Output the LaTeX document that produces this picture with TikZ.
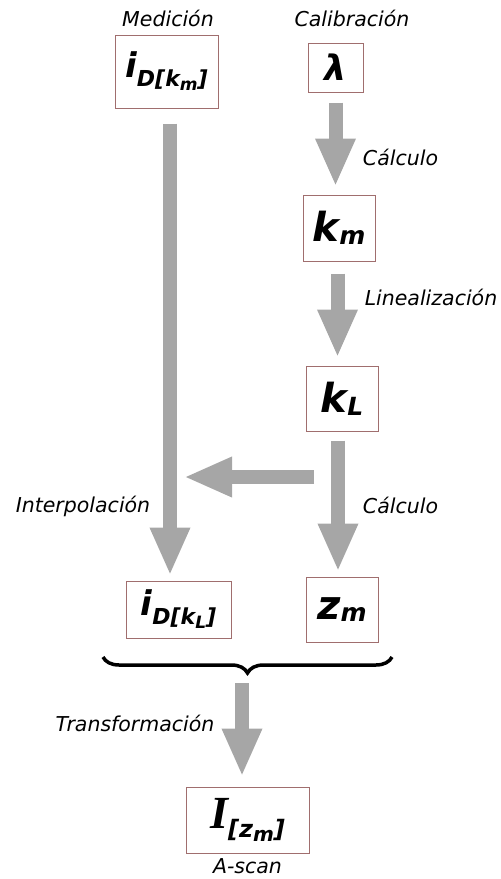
\documentclass[tikz,border=0pt]{standalone}
\usepackage{fontspec}
\setmainfont{DejaVu Sans}[ItalicFont={DejaVu Sans Oblique},BoldFont={DejaVu Sans Bold},BoldItalicFont={DejaVu Sans Bold Oblique}]
\newfontfamily\serifbi{Liberation Serif}
\usetikzlibrary{arrows.meta,decorations.pathreplacing}

\definecolor{boxred}{RGB}{160,110,110}
\definecolor{flowgray}{RGB}{166,166,166}

% symbol with subscript, sizes in px
\newcommand{\fs}[1]{\fontsize{#1}{#1}\selectfont}
\newcommand{\symb}[4]{{\fs{#1}#2}\raisebox{-0.28em}{\fs{#3}#4}}

\begin{document}
\begin{tikzpicture}[x=1pt, y=-1pt, every node/.style={font=\fs{20.5}\itshape},
    varbox/.style={draw=boxred, line width=1pt, inner sep=0pt, font=\bfseries\itshape},
    flow/.style={draw=flowgray, line width=14pt, -{Triangle[width=37pt,length=48pt]}}]
  \useasboundingbox (0,0) rectangle (501,879);

  \node[varbox, minimum width=103pt, minimum height=73pt] (idkm) at (166.5,71.5)
    {{\fs{34}i}\raisebox{-9pt}{\fs{22}D[k\raisebox{-4pt}{\fs{17}m}]}};
  \node[varbox, minimum width=55pt, minimum height=49pt] (lambda) at (335.5,67.5) {\fs{35}λ};
  \node[varbox, minimum width=72pt, minimum height=66pt] (km) at (339,228) {\symb{40}{k}{25}{m}};
  \node[varbox, minimum width=72pt, minimum height=65pt] (kL) at (342,398.5) {\symb{40}{k}{25}{L}};
  \node[varbox, minimum width=105pt, minimum height=57pt] (idkL) at (178.5,609.5)
    {{\fs{34}i}\raisebox{-9pt}{\fs{22}D[k\raisebox{-4pt}{\fs{17}L}]}};
  \node[varbox, minimum width=72pt, minimum height=65pt] (zm) at (342,609.5) {\symb{40}{z}{25}{m}};
  \node[varbox, minimum width=123pt, minimum height=66pt] (Izm) at (247.5,820)
    {{\serifbi\bfseries\itshape\fs{46}I}\raisebox{-9pt}{\fs{24}[z\raisebox{-4pt}{\fs{20}m}]}};

  \node (medicion) at (168,18) {Medición};
  \node (calibracion) at (352,18) {Calibración};
  \node (calculoA) at (400.5,157) {Cálculo};
  \node (linealizacion) at (431,297) {Linealización};
  \node (interpolacion) at (83,506) {Interpolación};
  \node (calculoB) at (400.5,505) {Cálculo};
  \node (transformacion) at (135,723) {Transformación};
  \node (ascan) at (247.5,866) {A-scan};

  \coordinate (split) at (338,477);
  \coordinate (join) at (170,477);
  \coordinate (braceL) at (103,657);
  \coordinate (braceR) at (392,657);
  \coordinate (braceTip) at (242,672);

  \draw[flow, shorten <=10pt, shorten >=8pt] (lambda.south) -- (lambda.south |- km.north);
  \draw[flow, shorten <=12pt, shorten >=8pt] ([xshift=-1.5pt]km.south) -- ([xshift=-1.5pt]km.south |- kL.north);
  \draw[flow, shorten <=9pt, shorten >=5pt] ([xshift=-4pt]kL.south) -- ([xshift=-4pt]kL.south |- zm.north);
  \draw[flow, shorten <=15pt, shorten >=5pt] (join |- idkm.south) -- (join |- idkL.north);
  \draw[flow, shorten <=24pt, shorten >=0pt] (split) -- ([xshift=14pt]join);
  \draw[decorate, decoration={brace, mirror, amplitude=16pt}, line width=3.5pt] (braceL) -- (braceR);
  \draw[flow, shorten <=11pt, shorten >=10pt] (braceTip) -- (braceTip |- Izm.north);
\end{tikzpicture}
\end{document}
